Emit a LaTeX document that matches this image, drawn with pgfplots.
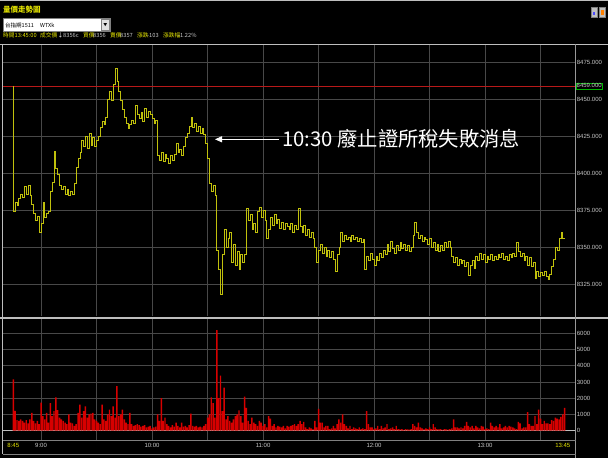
\documentclass[border=0pt]{standalone}
\usepackage{pgfplots}
\usepackage{pgfplotstable}
\pgfplotsset{compat=1.18}
\usepackage{fontspec}
\setmainfont{Liberation Sans}
\newfontfamily\cjk{Noto Sans CJK TC}
\usetikzlibrary{arrows.meta}

\definecolor{gridc}{RGB}{72,72,72}
\definecolor{pline}{RGB}{192,192,12}
\definecolor{refred}{RGB}{185,25,25}
\definecolor{vol}{RGB}{215,0,0}
\definecolor{lbl}{RGB}{200,200,200}
\definecolor{hdr}{RGB}{230,230,0}
\definecolor{framec}{RGB}{190,190,190}

% one value per minute from 8:45
\pgfplotstableread[row sep=\\, header=false]{
8459\\8374\\8380\\8378\\8383\\8386\\8384\\8391\\8386\\8392\\
8385\\8379\\8373\\8368\\8371\\8360\\8366\\8380\\8370\\8373\\
8374\\8388\\8394\\8415\\8403\\8399\\8392\\8389\\8391\\8386\\
8389\\8385\\8388\\8386\\8393\\8404\\8410\\8414\\8422\\8418\\
8425\\8417\\8427\\8419\\8424\\8418\\8422\\8425\\8431\\8435\\
8433\\8438\\8450\\8455\\8449\\8460\\8471\\8462\\8455\\8449\\
8443\\8438\\8434\\8430\\8433\\8436\\8434\\8446\\8440\\8437\\
8441\\8435\\8444\\8438\\8442\\8440\\8437\\8434\\8436\\8412\\
8409\\8414\\8408\\8413\\8410\\8407\\8412\\8409\\8413\\8420\\
8414\\8416\\8412\\8418\\8424\\8427\\8432\\8438\\8431\\8434\\
8428\\8432\\8427\\8430\\8426\\8420\\8410\\8393\\8388\\8392\\
8385\\8348\\8335\\8318\\8345\\8362\\8350\\8356\\8360\\8340\\
8352\\8338\\8347\\8335\\8345\\8340\\8345\\8376\\8368\\8372\\
8362\\8366\\8360\\8374\\8377\\8370\\8375\\8368\\8356\\8362\\
8370\\8365\\8372\\8366\\8369\\8363\\8367\\8362\\8366\\8364\\
8362\\8366\\8360\\8365\\8362\\8376\\8364\\8360\\8365\\8358\\
8362\\8357\\8360\\8356\\8350\\8340\\8348\\8352\\8346\\8350\\
8344\\8348\\8343\\8347\\8342\\8334\\8345\\8350\\8360\\8354\\
8358\\8355\\8357\\8354\\8358\\8355\\8357\\8354\\8356\\8353\\
8355\\8335\\8344\\8341\\8346\\8342\\8338\\8344\\8341\\8346\\
8343\\8348\\8345\\8352\\8347\\8354\\8349\\8346\\8351\\8348\\
8353\\8349\\8352\\8348\\8351\\8347\\8350\\8358\\8367\\8360\\
8356\\8358\\8354\\8357\\8355\\8352\\8356\\8350\\8353\\8348\\
8352\\8347\\8351\\8348\\8353\\8350\\8354\\8350\\8344\\8340\\
8343\\8338\\8342\\8339\\8341\\8337\\8340\\8331\\8338\\8341\\
8336\\8344\\8341\\8346\\8342\\8345\\8340\\8344\\8342\\8345\\
8341\\8344\\8342\\8345\\8343\\8346\\8342\\8344\\8341\\8345\\
8343\\8346\\8344\\8353\\8347\\8344\\8346\\8341\\8344\\8338\\
8343\\8337\\8340\\8329\\8334\\8330\\8333\\8331\\8334\\8330\\
8328\\8332\\8337\\8342\\8350\\8348\\8356\\8360\\8356\\
}\price

\pgfplotstableread[row sep=\\, header=false]{
3160\\1220\\650\\600\\700\\600\\500\\650\\450\\700\\
1100\\600\\450\\600\\400\\1730\\900\\700\\1100\\500\\
1700\\900\\1200\\2060\\1260\\800\\700\\600\\500\\400\\
1000\\500\\450\\300\\400\\1100\\1600\\800\\1200\\1500\\
800\\1000\\1050\\1100\\700\\600\\500\\400\\1600\\700\\
600\\1000\\1300\\900\\1500\\800\\2750\\900\\1000\\1300\\
700\\500\\400\\1100\\400\\300\\350\\400\\350\\250\\
300\\350\\200\\250\\300\\150\\200\\250\\1000\\600\\
2000\\600\\800\\400\\300\\200\\350\\250\\500\\300\\
200\\500\\250\\300\\200\\350\\1050\\300\\250\\300\\
200\\250\\200\\300\\400\\800\\1000\\2050\\1700\\800\\
6200\\2000\\3400\\1200\\2650\\700\\900\\600\\500\\700\\
900\\1000\\1250\\900\\500\\2100\\1400\\600\\400\\800\\
500\\400\\300\\600\\500\\300\\400\\200\\900\\750\\
300\\400\\200\\300\\250\\200\\300\\150\\300\\250\\
300\\350\\400\\300\\400\\600\\400\\550\\200\\100\\
200\\150\\100\\600\\200\\1350\\500\\500\\200\\300\\
300\\100\\150\\300\\150\\400\\700\\500\\1000\\400\\
300\\150\\300\\100\\200\\150\\100\\200\\100\\150\\
100\\1200\\400\\200\\200\\100\\150\\300\\100\\300\\
150\\200\\400\\100\\150\\200\\100\\300\\100\\80\\
100\\50\\100\\80\\60\\100\\400\\300\\200\\500\\
200\\150\\100\\150\\100\\200\\100\\400\\200\\100\\
80\\100\\50\\100\\80\\60\\100\\150\\700\\200\\
200\\150\\200\\150\\300\\550\\300\\200\\300\\150\\
300\\200\\150\\300\\250\\100\\150\\100\\500\\300\\
200\\300\\200\\400\\150\\200\\300\\200\\300\\250\\
200\\150\\100\\550\\450\\150\\200\\200\\1150\\400\\
300\\300\\900\\400\\1300\\750\\400\\600\\450\\450\\
400\\650\\600\\800\\750\\700\\850\\1000\\1400\\
}\volume

\begin{document}
\begin{tikzpicture}[x=1pt,y=1pt]
\fill[black] (0,0) rectangle (608,458);
\useasboundingbox (0,0) rectangle (608,458);

% price panel
\begin{axis}[
  at={(3pt,141.5pt)}, anchor=south west,
  scale only axis, width=572.7pt, height=272pt,
  xmin=-5.57, xmax=304, ymin=8303.2, ymax=8487,
  enlargelimits=false, scaled ticks=false, clip=true,
  axis line style={draw=none},
  major tick length=0pt,
  xtick={15,45,...,285}, xticklabel={},
  ytick={8325,8350,...,8475},
  yticklabels={8325.000,8350.000,8375.000,8400.000,8425.000,8450.000,8475.000},
  yticklabel pos=right,
  yticklabel style={anchor=west, inner sep=1pt, font=\fontsize{6}{6}\selectfont, text=lbl},
  grid=major, major grid style={draw=gridc, line width=0.7pt},
  extra y ticks={8459}, extra y tick labels={8459.000},
  extra y tick style={grid=none, yticklabel style={draw=green!70!black, fill=black, inner sep=0.8pt}},
]
\addplot[refred, line width=0.8pt] coordinates {(-5.57,8459) (304,8459)};
\addplot[pline, line width=0.75pt, const plot mark right]
  table[x expr=\coordindex, y index=0] {\price};
\end{axis}

% volume panel
\begin{axis}[
  at={(3pt,18pt)}, anchor=south west,
  scale only axis, width=572.7pt, height=121pt,
  xmin=-5.57, xmax=304, ymin=-573, ymax=6882,
  enlargelimits=false, scaled ticks=false,
  axis line style={draw=none},
  major tick length=0pt,
  xtick={15,45,...,285},
  xticklabels={9:00,,10:00,,11:00,,12:00,,13:00,},
  xticklabel style={anchor=base, yshift=-8pt, font=\fontsize{6}{6}\selectfont, text=lbl},
  ytick={1000,2000,...,6000},
  yticklabels={1000,2000,3000,4000,5000,6000},
  yticklabel pos=right,
  yticklabel style={anchor=west, inner sep=1pt, font=\fontsize{6}{6}\selectfont, text=lbl},
  grid=major, major grid style={draw=gridc, line width=0.7pt},
  extra y ticks={0}, extra y tick labels={0},
  extra y tick style={major grid style={draw=framec, line width=1.3pt}},
  extra x ticks={0}, extra x tick labels={8:45},
  extra x tick style={grid=none, xticklabel style={text=hdr}},
]
\addplot[ybar, bar width=0.8, fill=vol, draw=none]
  table[x expr=\coordindex, y index=0] {\volume};
\end{axis}

% frame lines
\draw[framec, line width=1pt] (0,457.5) -- (608,457.5);
\draw[framec, line width=1.2pt] (0,413.5) -- (608,413.5);
\draw[framec, line width=1.8pt] (0,140.2) -- (608,140.2);
\draw[framec, line width=1.5pt] (2.6,4) -- (2.6,413.5);
\draw[framec!80!black, line width=1pt] (575.7,0) -- (575.7,413.5);
\draw[gray, line width=0.8pt] (3,18) -- (575.7,18);
\draw[gray, line width=0.8pt] (3,4) -- (575.7,4);
\node[anchor=base east, inner sep=0, font=\fontsize{6}{6}\selectfont, text=hdr] at (570.5,10) {13:45};

% header
\node[anchor=west, inner sep=0, text=hdr, font=\cjk\bfseries\fontsize{7.5}{7.5}\selectfont] at (3,448) {量價走勢圖};
\filldraw[fill=white, draw=gray] (2.7,426.3) rectangle (110,439.7);
\filldraw[fill=black!12, draw=gray] (101.5,427.5) rectangle (109,438.5);
\node[inner sep=0, font=\cjk\fontsize{4}{4}\selectfont] at (105.3,433) {▼};
\node[anchor=west, inner sep=0, font=\cjk\fontsize{5.5}{5.5}\selectfont] at (5,433) {台指期1511};
\node[anchor=west, inner sep=0, font=\cjk\fontsize{5.5}{5.5}\selectfont] at (40,433) {WTXk};
\begin{scope}[every node/.style={anchor=west, inner sep=0, font=\cjk\fontsize{5.7}{5.7}\selectfont}]
\node[text=hdr] at (3,422.3) {時間13:45:00};
\node[text=hdr] at (40,422.3) {成交價};
\node[text=white] at (57.5,422.3) {↓};
\node[text=lbl] at (63,422.3) {8356c};
\node[text=hdr] at (83,422.3) {買價};
\node[text=lbl] at (93,422.3) {8356};
\node[text=hdr] at (110,422.3) {賣價};
\node[text=lbl] at (120,422.3) {8357};
\node[text=hdr] at (137,422.3) {漲跌};
\node[text=lbl] at (147,422.3) {-103};
\node[text=hdr] at (163,422.3) {漲跌幅};
\node[text=lbl] at (178,422.3) {-1.22\%};
\end{scope}
\filldraw[fill=black!25, draw=gray] (591,441) rectangle (597.5,450.5);
\fill[blue!70] (592.5,443) rectangle (594.5,446);
\filldraw[fill=black!25, draw=gray] (599,441) rectangle (605.5,450.5);
\fill[orange] (601,443) rectangle (604,448);

% annotation
\draw[white, line width=0.8pt, -{Triangle[length=7pt,width=6pt]}] (279,318.7) -- (215,318.7);
\node[anchor=base west, inner sep=0, text=white, font=\cjk\fontsize{20.3}{20.3}\selectfont] at (282,311.3) {10:30 廢止證所稅失敗消息};
\end{tikzpicture}
\end{document}
